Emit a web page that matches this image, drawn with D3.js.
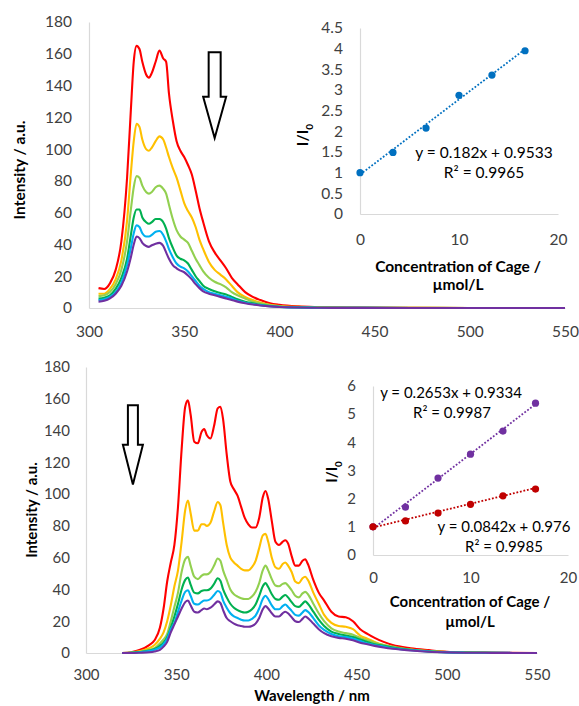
<!DOCTYPE html>
<html><head><meta charset="utf-8">
<script src="https://cdn.jsdelivr.net/npm/d3@7"></script>
<style>
html,body{margin:0;padding:0;background:#fff;}
svg{display:block;font-family:Lato,"Open Sans",sans-serif;}
</style></head><body>
<svg id="chart" width="579" height="706"></svg>
<script>
// ---------- Top panel spectra ----------
const topWavelengths = [305,308,311,314,317,320,322,323.5,325,326.5,328,330,331.5,333,335,337,339,340.5,342,344,346,348,350,352,354,356,358,360,363,366,369,372,375,378,382,386,390,395,400,410,420,440,470,500,550];
const topRed    = [12.5,12,15.5,24,42,82,125,155,165,163,155,147,145,148,155,162,157,155,135,118,105,99,95,90,84,74,63,54,42,35,30,25,19,15,10,7,5,3,2,1,0.6,0.3,0.1,0,0];
const topOrange = [9,9,12,18,30,55,85,105,116,114,106,100,99,101,105,108,106,101,95,88,82,74,66,61,57,51,43,37,29,24,21,18,14,10,7,5,3.5,2,1.3,0.7,0.4,0.2,0.1,0,0];
const topLime   = [7.5,8,10,15,24,42,62,76,83,82,77,73,72,73,76,77,75,72,65,56,49,45,43,41,36,31,27,23,19,16.5,15,13,10,8,6,4,3,1.8,1,0.5,0.3,0.1,0.1,0,0];
const topGreen  = [6,6.5,8,12,19,31,46,57,62,62,57,54,53,54,56,56,54,50,44,38,33,31,30,28,24,20,17,14,12,10.5,9.5,8.5,7,5.5,4,3,2,1.3,0.8,0.4,0.2,0.1,0,0,0];
const topBlue   = [5,5.5,7,10,16,27,38,47,52,51,47,45,45,46,48,48.5,46,42,37,32,28,26,25,23,20,17,14,12,10,9,8,7,6,4.5,3.3,2.5,1.8,1.1,0.7,0.3,0.2,0.1,0,0,0];
const topPurple = [4,4.5,6,9,14,23,32,40,45,44,41,39,38.5,39.5,40.5,41,39,35,31,27,25,23.5,22.5,20.5,18,15,12.5,10.5,9,8,7,6,5,4,3,2.2,1.6,1,0.6,0.3,0.15,0.05,0,0,0];

// ---------- Bottom panel spectra ----------
const botWavelengths = [320,325,330,335,338,341,343,345,347,349,351,353,355,356.5,358,360,362,364,365.5,367,369,371,373,374.5,376,378,380,382,384,386,388,390,392,394,396,398,399.5,401,403,405,407,409,410.5,412,414,416,418,420,421.5,423,426,429,432,436,440,444,448,452,456,460,465,470,480,490,500,510,525,550];
const botRed    = [0,0.5,2,5,8,16,28,45,57,68,92,128,155,159,150,133,132,139,141,137,135,143,154,155,147,125,108,103,99,92,85,81,79,79,85,98,102,97,83,70,68,70,71,69,61,55,55,58,59,56,46,38,33,26,23,22.5,20,15,12,9.5,7,5,3,1.8,0.8,0.4,0.2,0];
const botOrange = [0,0.3,1.2,3,5,9,13,20,30,42,52,70,90,96,88,77,77,81,81,80,82,89,95,93,82,68,60,57,55,53,52,52,54,58,66,74,75,70,60,54,53,56,57,55,51,45,44,47,48,46,38,31,24,19,17,16.5,15,11,9,7,5,3.5,2.2,1.2,0.6,0.3,0.1,0];
const botLime   = [0,0.2,0.8,2,3,6,8.5,12,20,29,38,51,59,60.5,55,48,46.5,48.5,49.5,49.5,51,55,59.5,58,52,46,40,37,35.5,34.5,34,34,35.5,38.5,44,52,55,52,46.5,42.5,42,43.5,44,42.5,39.5,36,35,37.5,38.5,37,31,25,20,15.5,13.5,12.5,11.5,9.5,8,6.5,5,4,2.2,1.2,0.6,0.3,0.1,0];
const botGreen  = [0,0.2,0.6,1.5,2.5,4.5,6.5,10,16,23,31,40,46,47.5,43,38,37.5,39,39.5,39.5,40.5,43.5,47,45.5,40,35,31,28.5,27,26,25.5,26,27.5,30.5,36,42,44,41.5,37,34,33.5,35.5,36.5,35,32,29.5,29,31,32.5,31,26,21,17,13.5,12,11,10,8.5,7,5.5,4.5,3.5,2,1,0.5,0.3,0.1,0];
const botBlue   = [0,0.1,0.5,1.2,2,3.5,5.5,9,15,19,26,33,38.5,39.5,36,31,30.5,32,33,33,34,36.5,39,38,33,28.5,25,23,22,21,20.5,20.5,21.5,23.5,28,34,36,34,30,27.5,27.5,29.5,30.5,29,26.5,24,23.5,25.5,27,26,22,17.5,14.5,12,10.5,10,9,7.5,6,5,4,3,1.8,0.9,0.4,0.2,0.1,0];
const botPurple = [0,0,0.2,0.5,1,2,4,7,13,18,23,28,32,33,30,26,25.5,27,28,27.5,28.5,30.5,32.5,31.5,27,22,20,18.5,17.5,17,16.5,16.5,17,18.5,22,27.5,29.5,28,25,23,23,25,26,25,22.5,20,19.5,21.5,23,22,18.5,15,12.5,10.5,9.5,9,8,6.5,5.5,4.5,3.5,2.7,1.6,0.8,0.4,0.2,0.1,0];

// ---------- Insets ----------
const insetConc = [0,3.33,6.67,10,13.33,16.67];
const insetTopRatio = [1,1.49,2.08,2.87,3.36,3.95];
const insetBotPurple = [1,1.7,2.73,3.58,4.4,5.39];
const insetBotRed = [1,1.21,1.49,1.8,2.1,2.34];
const fitTop = {m:0.182, b:0.9533, eq:"y = 0.182x + 0.9533", r2:"R² = 0.9965"};
const fitPurple = {m:0.2653, b:0.9334, eq:"y = 0.2653x + 0.9334", r2:"R² = 0.9987"};
const fitRed = {m:0.0842, b:0.976, eq:"y = 0.0842x + 0.976", r2:"R² = 0.9985"};

// ---------- Tick labels ----------
const mainXTicks = [300,350,400,450,500,550];
const mainYTicks = [0,20,40,60,80,100,120,140,160,180];
const insetXTicks = [0,10,20];
const insetTopYTicks = [0,0.5,1,1.5,2,2.5,3,3.5,4,4.5];
const insetBotYTicks = [0,1,2,3,4,5,6];

const seriesColors = ["#ff0000","#ffc000","#92d050","#00b050","#00b0f0","#7030a0"];
const svg = d3.select("#chart");
const FONT = 'Lato, "Open Sans", sans-serif';

function axes(x, y, xt, yt, padX, padY, fs, fmtY) {
  const g = svg.append("g");
  const ax = g.append("g").attr("transform", `translate(0,${y.range()[0]})`)
    .call(d3.axisBottom(x).tickValues(xt).tickSize(0).tickPadding(padX));
  const ay = g.append("g").attr("transform", `translate(${x.range()[0]},0)`)
    .call(d3.axisLeft(y).tickValues(yt).tickSize(0).tickPadding(padY).tickFormat(fmtY || (d => d)));
  [ax, ay].forEach(a => {
    a.attr("font-family", FONT).attr("font-size", fs);
    a.select(".domain").attr("stroke", "#d9d9d9").attr("stroke-width", 1.2);
    a.selectAll("text").attr("fill", "#404040");
  });
  return g;
}

function boldText(x, y, txt, fs, rot) {
  const t = svg.append("text").attr("font-family", FONT).attr("font-weight", "bold")
    .attr("font-size", fs).attr("text-anchor", "middle").attr("fill", "#000")
    .attr("dy", "0.35em");
  if (rot) t.attr("transform", `translate(${x},${y}) rotate(-90)`);
  else t.attr("x", x).attr("y", y);
  t.text(txt);
  return t;
}

function plainText(x, y, txt, fs) {
  svg.append("text").attr("font-family", FONT).attr("font-size", fs)
    .attr("text-anchor", "middle").attr("fill", "#000").attr("dy", "0.35em")
    .attr("x", x).attr("y", y).text(txt);
}

function ratioTitle(x, y, fs) {
  const t = svg.append("text").attr("font-family", FONT).attr("font-weight", "bold")
    .attr("font-size", fs).attr("text-anchor", "middle").attr("fill", "#000")
    .attr("transform", `translate(${x},${y}) rotate(-90)`).attr("dy", "0.35em");
  t.append("tspan").text("I/I");
  t.append("tspan").attr("font-size", fs * 0.65).attr("dy", fs * 0.3).text("0");
}

function arrow(x, y, wl, vTop, vHead, vTip, hwShaft, hwHead) {
  const cx = x(wl);
  const p = d3.path();
  p.moveTo(cx - hwShaft, y(vTop));
  p.lineTo(cx + hwShaft, y(vTop));
  p.lineTo(cx + hwShaft, y(vHead));
  p.lineTo(cx + hwHead, y(vHead));
  p.lineTo(cx, y(vTip));
  p.lineTo(cx - hwHead, y(vHead));
  p.lineTo(cx - hwShaft, y(vHead));
  p.closePath();
  svg.append("path").attr("d", p.toString()).attr("fill", "#fff")
    .attr("stroke", "#000").attr("stroke-width", 2);
}

function spectra(x, y, wls, series) {
  const line = d3.line().x((d, i) => x(wls[i])).y(d => y(d)).curve(d3.curveMonotoneX);
  series.forEach((s, k) => {
    svg.append("path").datum(s).attr("d", line).attr("fill", "none")
      .attr("stroke", seriesColors[k]).attr("stroke-width", 2.1)
      .attr("stroke-linejoin", "round");
  });
}

function insetSeries(x, y, vals, fit, color) {
  const ends = [insetConc[0], insetConc[insetConc.length - 1]];
  svg.append("path")
    .attr("d", d3.line().x(d => x(d)).y(d => y(fit.m * d + fit.b))(ends))
    .attr("fill", "none").attr("stroke", color).attr("stroke-width", 1.8)
    .attr("stroke-dasharray", "1.8,1.8");
  svg.append("g").selectAll("circle").data(vals).join("circle")
    .attr("cx", (d, i) => x(insetConc[i])).attr("cy", d => y(d)).attr("r", 3.6)
    .attr("fill", color);
}

// ===== Top main chart =====
const xT = d3.scaleLinear([300, 550], [89, 565]);
const yT = d3.scaleLinear([0, 180], [308, 22]);
axes(xT, yT, mainXTicks, mainYTicks, 18, 17, 15.5);
spectra(xT, yT, topWavelengths, [topRed, topOrange, topLime, topGreen, topBlue, topPurple]);
arrow(xT, yT, 366, 161, 133, 107, 6, 11.5);
boldText(20, 170, "Intensity / a.u.", 15.5, true);

// ===== Top inset =====
const xTi = d3.scaleLinear([0, 20], [360, 558]);
const yTi = d3.scaleLinear([0, 4.5], [214, 28]);
axes(xTi, yTi, insetXTicks, insetTopYTicks, 20, 17, 15.5);
insetSeries(xTi, yTi, insetTopRatio, fitTop, "#0070c0");
plainText(484, 153, fitTop.eq, 15.5);
plainText(484, 173, fitTop.r2, 15.5);
ratioTitle(303, 135, 15.5);
boldText(458, 267, "Concentration of Cage /", 15.5);
boldText(458, 285, "µmol/L", 15.5);

// ===== Bottom main chart =====
const xB = d3.scaleLinear([300, 550], [86, 537]);
const yB = d3.scaleLinear([0, 180], [653, 367]);
axes(xB, yB, mainXTicks, mainYTicks, 16, 16, 15);
spectra(xB, yB, botWavelengths, [botRed, botOrange, botLime, botGreen, botBlue, botPurple]);
arrow(xB, yB, 326, 156, 131, 106, 5, 10);
boldText(32, 510, "Intensity / a.u.", 15, true);
boldText(312, 696, "Wavelength / nm", 15);

// ===== Bottom inset =====
const xBi = d3.scaleLinear([0, 20], [373, 568]);
const yBi = d3.scaleLinear([0, 6], [555, 386]);
axes(xBi, yBi, insetXTicks, insetBotYTicks, 17, 17, 15);
insetSeries(xBi, yBi, insetBotPurple, fitPurple, "#7030a0");
insetSeries(xBi, yBi, insetBotRed, fitRed, "#c00000");
plainText(451, 393, fitPurple.eq, 15);
plainText(452, 413, fitPurple.r2, 15);
plainText(504, 527, fitRed.eq, 15);
plainText(504, 547, fitRed.r2, 15);
ratioTitle(332, 472, 15);
boldText(470, 602, "Concentration of Cage /", 15);
boldText(470, 622, "µmol/L", 15);
</script>
</body></html>
